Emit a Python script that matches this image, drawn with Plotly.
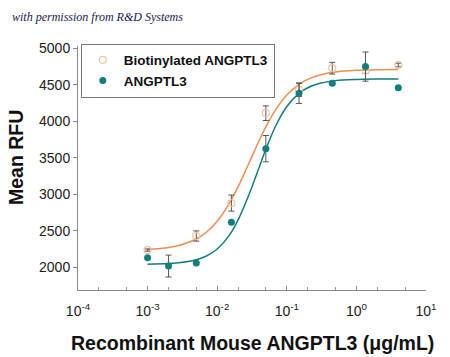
import plotly.graph_objects as go

# measured concentrations (ug/mL)
conc = [0.001, 0.002, 0.005, 0.016, 0.05, 0.15, 0.45, 1.35, 4.0]
biot_mean = [2237, None, 2429, 2880, 4110, 4430, 4726, 4695, 4770]
biot_err = [15, None, 70, 110, 100, 90, 80, 40, 25]
angp_mean = [2132, 2018, 2060, 2616, 3625, 4384, 4521, 4748, 4460]
angp_err = [0, 150, 15, 0, 180, 140, 15, 200, 0]

# fitted curves
curve_x = [0.001, 0.002, 0.003, 0.005, 0.007, 0.01, 0.015, 0.02, 0.03, 0.04,
           0.05, 0.07, 0.1, 0.15, 0.2, 0.3, 0.5, 1, 2, 4]
biot_curve = [2245, 2272, 2306, 2388, 2481, 2630, 2878, 3104, 3470, 3733,
              3923, 4167, 4360, 4506, 4574, 4633, 4674, 4697, 4706, 4708]
angp_curve = [2044, 2053, 2066, 2104, 2155, 2251, 2441, 2649, 3044, 3368,
              3617, 3945, 4202, 4382, 4458, 4519, 4556, 4573, 4578, 4579]

x_tickvals = [1e-4, 1e-3, 1e-2, 1e-1, 1, 10]
x_ticktext = ["10<sup>-4</sup>", "10<sup>-3</sup>", "10<sup>-2</sup>",
              "10<sup>-1</sup>", "10<sup>0</sup>", "10<sup>1</sup>"]
y_tickvals = [2000, 2500, 3000, 3500, 4000, 4500, 5000]

ORANGE = "#ea8f55"
PEACH = "#efc3a0"
TEAL = "#137f7c"
ERR = "#555555"
FONT = "Liberation Sans, Arial"

fig = go.Figure()
fig.add_trace(go.Scatter(x=curve_x, y=biot_curve, mode="lines", line=dict(color=ORANGE, width=1.5, shape="spline"),
                         showlegend=False, hoverinfo="skip"))
fig.add_trace(go.Scatter(x=curve_x, y=angp_curve, mode="lines", line=dict(color=TEAL, width=1.5, shape="spline"),
                         showlegend=False, hoverinfo="skip"))
fig.add_trace(go.Scatter(x=conc, y=biot_mean, mode="markers", name="Biotinylated ANGPTL3",
                         marker=dict(symbol="circle-open", size=7, color=PEACH, line=dict(width=1.2, color=PEACH)),
                         error_y=dict(type="data", array=biot_err, color=ERR, thickness=1, width=3)))
fig.add_trace(go.Scatter(x=conc, y=angp_mean, mode="markers", name="ANGPTL3",
                         marker=dict(symbol="circle", size=7, color=TEAL),
                         error_y=dict(type="data", array=angp_err, color=ERR, thickness=1, width=3)))

fig.update_xaxes(type="log", range=[-4, 1], tickvals=x_tickvals, ticktext=x_ticktext, automargin=False,
                 showline=True, linecolor="#888888", linewidth=1, ticks="inside", ticklen=4,
                 tickcolor="#888888", showgrid=False, zeroline=False, ticklabelstandoff=8,
                 minor=dict(ticks="inside", ticklen=3, tickcolor="#999999", showgrid=False),
                 tickfont=dict(family=FONT, size=14, color="#222"))
fig.update_yaxes(range=[1690, 5030], tickvals=y_tickvals, showline=True, linecolor="#888888", linewidth=1,
                 automargin=False,
                 ticks="outside", ticklen=4, tickcolor="#888888", showgrid=False, zeroline=False,
                 tickfont=dict(family=FONT, size=14, color="#222"))

fig.update_layout(
    width=450, height=357,
    margin=dict(l=78, r=24, t=46, b=67),
    paper_bgcolor="white", plot_bgcolor="white",
    legend=dict(x=0.008, y=1.01, xanchor="left", yanchor="top",
                bordercolor="#777777", borderwidth=1, bgcolor="white",
                font=dict(family=FONT, size=13.5, color="#111", weight="bold"),
                itemwidth=32, tracegroupgap=0),
    annotations=[
        dict(text="<i>with permission from R&amp;D Systems</i>", xref="paper", yref="paper",
             x=-0.195, y=1.119, xanchor="left", yanchor="middle", showarrow=False,
             font=dict(family="Liberation Serif, serif", size=12, color="#1a1a4a")),
        dict(text="<b>Recombinant Mouse ANGPTL3 (μg/mL)</b>", xref="paper", yref="paper",
             x=0.5, y=-0.217, xanchor="center", yanchor="middle", showarrow=False,
             font=dict(family=FONT, size=19.5, color="#111")),
        dict(text="<b>Mean RFU</b>", xref="paper", yref="paper", textangle=-90,
             x=-0.178, y=0.541, xanchor="center", yanchor="middle", showarrow=False,
             font=dict(family=FONT, size=19.5, color="#111")),
    ],
)

fig.write_html("out.html", config={"displayModeBar": False},
               post_script="document.body.style.margin='0px';document.body.style.overflow='hidden';")
